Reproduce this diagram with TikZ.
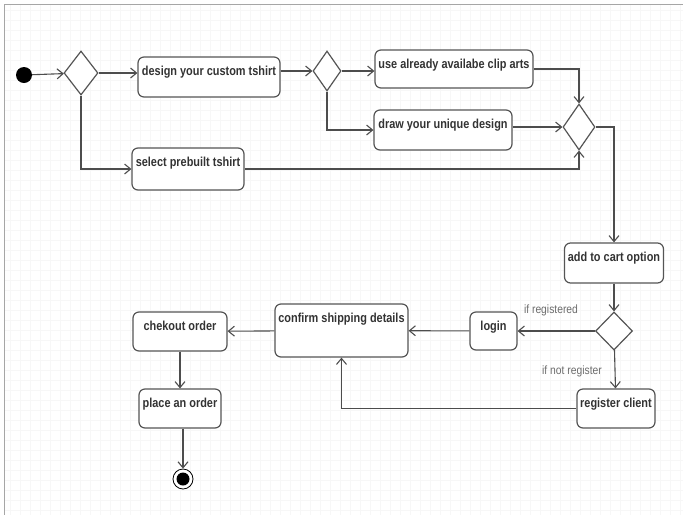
\documentclass[tikz,border=0pt]{standalone}
\usepackage{fontspec}
\setmainfont{Liberation Sans}
\newfontfamily\actfont[FakeStretch=0.84]{Liberation Sans Bold}
\newfontfamily\labfont[FakeStretch=0.86]{Liberation Sans}
\usetikzlibrary{shapes.geometric,arrows.meta}
\definecolor{boxgray}{HTML}{555555}
\definecolor{linegray}{HTML}{4D4D4D}
\definecolor{textgray}{HTML}{333333}

\begin{document}
\begin{tikzpicture}[x=1pt,y=-1pt]
\tikzstyle{act}=[draw=boxgray, fill=white, line width=1.2pt, rounded corners=6pt, font=\actfont\fontsize{13}{15}\selectfont, text=textgray, inner xsep=3pt, inner ysep=3pt, text height=15pt, text depth=19pt]
\tikzstyle{dec}=[draw=boxgray, fill=white, line width=1.2pt, diamond, inner sep=0pt]
\tikzstyle{flow}=[draw=linegray, line width=1.1pt, -{Straight Barb[length=6pt,width=10pt]}]
\tikzstyle{guard}=[font=\labfont\fontsize{12}{14}\selectfont, text=gray!85!black]
\useasboundingbox (0,0) rectangle (683,515);
% background grid
\foreach \x in {10,20,...,680} \draw[gray!6, line width=0.5pt] (\x,5) -- (\x,515);
\foreach \y in {10,20,...,510} \draw[gray!6, line width=0.5pt] (5,\y) -- (683,\y);
\draw[gray!70, line width=1.2pt] (683,4.5) -- (4.5,4.5) -- (4.5,515);

\node (start) at (24,75) [circle, fill=black, minimum size=16pt, inner sep=0pt] {};
\node (d1) at (81,73) [dec, minimum width=34pt, minimum height=44pt] {};
\node (design) at (209,77) [act, minimum width=142pt] {design your custom tshirt};
\node (d2) at (327,71) [dec, minimum width=28pt, minimum height=40pt] {};
\node (clip) at (454,69) [act, minimum width=158pt, text depth=17pt] {use already availabe clip arts};
\node (unique) at (443,130) [act, minimum width=138pt] {draw your unique design};
\node (prebuilt) at (188,169) [act, minimum width=112pt, text depth=21pt] {select prebuilt tshirt};
\node (d3) at (579,127) [dec, minimum width=32pt, minimum height=46pt] {};
\node (cart) at (614,263) [act, minimum width=99pt] {add to cart option};
\node (d4) at (614,331) [dec, minimum width=37pt, minimum height=38pt] {};
\node (login) at (493.5,331) [act, minimum width=47pt, text depth=17pt] {login};
\node (confirm) at (341.5,330.5) [act, minimum width=133pt, text depth=32pt] {confirm shipping details};
\node (checkout) at (180,331.5) [act, minimum width=94pt, text depth=18pt] {chekout order};
\node (place) at (180,408.5) [act, minimum width=82pt, text depth=18pt] {place an order};
\node (register) at (616,408.5) [act, minimum width=78pt, text depth=18pt] {register client};
\node (stop) at (183,479) [circle, draw=black, fill=white, line width=0.8pt, minimum size=20pt, inner sep=0pt] {};
\node (stopdot) at (183,479) [circle, fill=black, minimum size=13pt, inner sep=0pt] {};
\node (reglab) at (551,310) [guard] {if registered};
\node (notreglab) at (572,371) [guard] {if not register};

\draw[flow] (start) -- (d1);
\draw[flow] (d1) -- (design.west |- d1);
\draw[flow] (d1.south) |- (prebuilt.west);
\draw[flow] (design.east |- d2) -- (d2.west);
\draw[flow] (d2) -- (clip.west |- d2);
\draw[flow] (d2.south) |- (unique.west);
\draw[flow] (clip.east) -| (d3.north);
\draw[flow] (unique.east |- d3) -- (d3.west);
\draw[flow] (prebuilt.east) -| (d3.south);
\draw[flow] (d3.east) -| (cart.north);
\draw[flow] (cart) -- (d4);
\draw[flow] (d4) -- (login);
\draw[flow] (login) -- (confirm);
\draw[flow] (confirm) -- (checkout);
\draw[flow] (checkout) -- (place);
\draw[flow] (place.south -| stop) -- (stop);
\draw[flow] (d4) -- (register);
\draw[flow] (register.west) -| (confirm.south);
\end{tikzpicture}
\end{document}
